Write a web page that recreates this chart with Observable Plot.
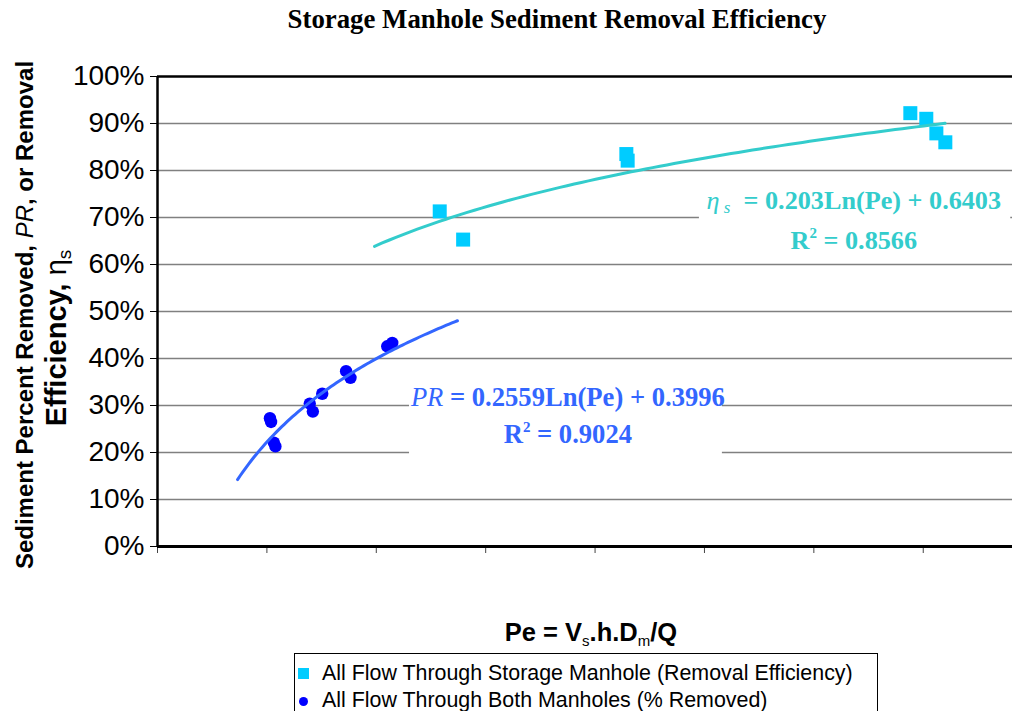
<!DOCTYPE html>
<html><head><meta charset="utf-8">
<script src="https://cdn.jsdelivr.net/npm/d3@7"></script>
<script src="https://cdn.jsdelivr.net/npm/@observablehq/plot@0.6"></script>
<style>
body{margin:0;background:#fff;}
#wrap{position:relative;width:1012px;height:711px;overflow:hidden;font-family:Arial,"Liberation Sans",sans-serif;background:#fff;}
#chart{position:absolute;left:0;top:0;}
#title{position:absolute;left:0;width:1114px;top:6px;text-align:center;font-family:"Liberation Serif","Times New Roman",serif;font-weight:bold;font-size:26.8px;line-height:26px;white-space:nowrap;}
#xlabel{position:absolute;left:0;width:1182px;top:620px;text-align:center;font-weight:bold;font-size:25.5px;line-height:25px;white-space:nowrap;}
#xlabel .sub{font-size:15px;position:relative;top:5px;font-weight:normal;}
#legend{position:absolute;left:294px;top:653px;width:584px;height:80px;border:1px solid #000;box-sizing:border-box;}
.lg-text{position:absolute;font-size:21.4px;line-height:21px;white-space:nowrap;color:#000;}
.lg-sw{position:absolute;}
</style></head>
<body>
<div id="wrap">
  <div id="chart"></div>
  <div id="title"></div>
  <div id="xlabel">Pe = V<span class="sub">s</span>.h.D<span class="sub">m</span>/Q</div>
  <div id="legend"></div>
</div>
<script>
// ---- data ----
const chartTitle = "Storage Manhole Sediment Removal Efficiency";
const storagePe  = [1.290, 1.397, 2.143, 2.149, 3.441, 3.514, 3.560, 3.601];
const storageEff = [0.713, 0.653, 0.835, 0.821, 0.922, 0.910, 0.879, 0.860];
const bothPe     = [0.514, 0.519, 0.532, 0.539, 0.696, 0.710, 0.753, 0.862, 0.882, 1.050, 1.073];
const bothPR     = [0.273, 0.265, 0.221, 0.213, 0.304, 0.287, 0.325, 0.373, 0.359, 0.426, 0.433];
// trendline equations shown on the chart: y = a*ln(Pe) + b, drawn over the Pe span seen in the picture
const storageFit = {a: 0.203,  b: 0.6403, from: 0.992, to: 3.60, r2: "0.8566"};
const bothFit    = {a: 0.2559, b: 0.3996, from: 0.366, to: 1.371, r2: "0.9024"};
const yTicks = [0, 0.1, 0.2, 0.3, 0.4, 0.5, 0.6, 0.7, 0.8, 0.9, 1.0];
const xTicks = [0, 0.5, 1.0, 1.5, 2.0, 2.5, 3.0, 3.5];
const legendLabels = ["All Flow Through Storage Manhole (Removal Efficiency)", "All Flow Through Both Manholes (% Removed)"];

// ---- styles ----
const CYAN_PT = "#00CCFF", CYAN_LN = "#33CCCC", BLUE_PT = "#0000FF", BLUE_LN = "#3366FF";

const storage = storagePe.map((x, i) => ({x, y: storageEff[i]}));
const both = bothPe.map((x, i) => ({x, y: bothPR[i]}));
function fitCurve(f) {
  const n = 80, pts = [];
  for (let i = 0; i <= n; i++) {
    const x = f.from + (f.to - f.from) * i / n;
    pts.push({x, y: f.a * Math.log(x) + f.b});
  }
  return pts;
}
const storageCurve = fitCurve(storageFit);
const bothCurve = fitCurve(bothFit);

// boxes behind equation labels (data units)
const labelBoxes = [
  {x1: 1.152, x2: 2.582, y1: 0.17, y2: 0.37},
  {x1: 2.477, x2: 3.90, y1: 0.63, y2: 0.77}
];
const grid = yTicks.filter(v => v > 0 && v < 1);

const plot = Plot.plot({
  width: 1012, height: 560,
  marginLeft: 157, marginRight: 0, marginTop: 76, marginBottom: 14,
  style: {fontFamily: "Arial, 'Liberation Sans', sans-serif", fontSize: "28px", background: "white", overflow: "visible"},
  x: {domain: [0, 3.908]},
  y: {domain: [0, 1]},
  marks: [
    Plot.ruleY(grid, {stroke: "#808080", strokeWidth: 1.5}),
    Plot.rect(labelBoxes, {x1: "x1", x2: "x2", y1: "y1", y2: "y2", fill: "white"}),
    Plot.ruleY([1], {stroke: "#000", strokeWidth: 2.5}),
    Plot.axisY({ticks: yTicks, tickFormat: d3.format(".0%"), tickSize: 7, tickPadding: 6, fontSize: 28, label: null, stroke: "#000"}),
    Plot.axisX({ticks: xTicks, tickFormat: () => "", tickSize: 7, label: null, stroke: "#444"}),
    Plot.ruleX([0], {stroke: "#000", strokeWidth: 2.5}),
    Plot.ruleY([0], {stroke: "#000", strokeWidth: 3}),
    Plot.dot(storage, {x: "x", y: "y", symbol: "square", r: 7.9, fill: CYAN_PT, stroke: "none"}),
    Plot.dot(both, {x: "x", y: "y", symbol: "circle", r: 6.2, fill: BLUE_PT, stroke: "none"}),
    Plot.line(storageCurve, {x: "x", y: "y", stroke: CYAN_LN, strokeWidth: 3}),
    Plot.line(bothCurve, {x: "x", y: "y", stroke: BLUE_LN, strokeWidth: 3})
  ]
});
document.getElementById("chart").appendChild(plot);
document.getElementById("title").textContent = chartTitle;

// ---- rich-text labels placed through the plot's own scales ----
const sx = plot.scale("x"), sy = plot.scale("y");
const svg = d3.select(plot);
const serif = "'Liberation Serif','Times New Roman',serif";
function eqLabel(g, cx, yLine1, yLine2, color, leadFn, fit, size) {
  const t1 = g.append("text").attr("x", sx.apply(cx)).attr("y", sy.apply(yLine1))
    .attr("text-anchor", "middle").attr("fill", color).attr("font-family", serif).attr("font-size", size);
  leadFn(t1);
  t1.append("tspan").attr("font-weight", "bold").text(` = ${fit.a}Ln(Pe) + ${fit.b}`);
  const t2 = g.append("text").attr("x", sx.apply(cx)).attr("y", sy.apply(yLine2))
    .attr("text-anchor", "middle").attr("fill", color).attr("font-family", serif).attr("font-size", size).attr("font-weight", "bold");
  t2.append("tspan").text("R");
  t2.append("tspan").attr("font-size", 15).attr("dy", -11).text("2");
  t2.append("tspan").attr("dy", 11).text(` = ${fit.r2}`);
}
const g = svg.append("g");
eqLabel(g, 3.185, 0.7175, 0.6325, CYAN_LN, t => {
  t.append("tspan").attr("font-style", "italic").text("η");
  t.append("tspan").attr("font-style", "italic").attr("font-size", 17).attr("dy", 4).text(" s");
  t.append("tspan").attr("dy", -4).text("\u00a0");
}, storageFit, 26.2);
eqLabel(g, 1.878, 0.297, 0.2195, BLUE_LN, t => {
  t.append("tspan").attr("font-style", "italic").text("PR");
}, bothFit, 26.6);

// y axis title (two rotated lines)
const yl1 = svg.append("text").attr("transform", `translate(33,315) rotate(-90)`)
  .attr("text-anchor", "middle").attr("font-weight", "bold").attr("font-size", 24).attr("fill", "#000");
yl1.append("tspan").text("Sediment Percent Removed, ");
yl1.append("tspan").attr("font-style", "italic").attr("font-weight", "normal").text("PR");
yl1.append("tspan").text(", or Removal");
const yl2 = svg.append("text").attr("transform", `translate(66,338) rotate(-90)`)
  .attr("text-anchor", "middle").attr("font-weight", "bold").attr("font-size", 29).attr("fill", "#000");
yl2.append("tspan").text("Efficiency, ");
yl2.append("tspan").attr("font-weight", "normal").text("η");
yl2.append("tspan").attr("font-weight", "normal").attr("font-size", 19).attr("dy", 5).text("s");

// legend
const lg = document.getElementById("legend");
lg.innerHTML = `
  <div class="lg-sw" style="left:3px;top:14px;width:11px;height:11px;background:${CYAN_PT}"></div>
  <div class="lg-text" style="left:27px;top:9px">${legendLabels[0]}</div>
  <div class="lg-sw" style="left:4px;top:43px;width:9px;height:9px;border-radius:50%;background:${BLUE_PT}"></div>
  <div class="lg-text" style="left:27px;top:36px">${legendLabels[1]}</div>`;
</script>
</body></html>
